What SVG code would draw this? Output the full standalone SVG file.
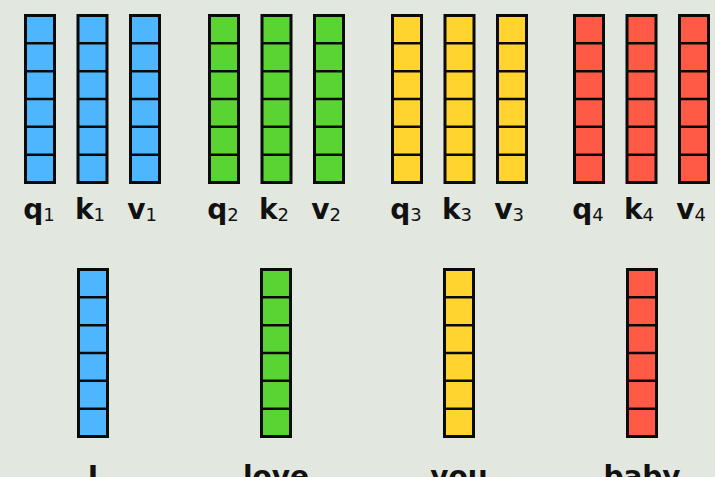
<svg xmlns="http://www.w3.org/2000/svg" xmlns:xlink="http://www.w3.org/1999/xlink" width="715" height="477" viewBox="0 0 715 477">
<style>
.box{stroke:#0a0a0a;stroke-width:3}
.div{stroke:#0a0a0a;stroke-width:2.5;fill:none}
.b{fill:#4DB6FF}.g{fill:#5AD432}.y{fill:#FFD42E}.r{fill:#FF5A46}
.lbl{font-family:"DejaVu Sans",sans-serif;font-weight:bold;font-size:28px;fill:#111;text-anchor:middle}
.sub{font-size:18px;font-weight:normal}
</style>
<defs>
<path id="dv" class="div" d="M1.5 43.33H30.5M1.5 71.17H30.5M1.5 99H30.5M1.5 126.83H30.5M1.5 154.67H30.5"/>
</defs>
<rect width="715" height="477" fill="#E2E7E0"/>
<g id="connectors"/>
<g id="q1"><rect class="box b" x="25.5" y="15.5" width="29" height="167"/><use xlink:href="#dv" x="24"/><text class="lbl" x="39" y="219">q<tspan class="sub" dy="2">1</tspan></text></g>
<g id="k1"><rect class="box b" x="78" y="15.5" width="29" height="167"/><use xlink:href="#dv" x="76.5"/><text class="lbl" x="90" y="219">k<tspan class="sub" dy="2">1</tspan></text></g>
<g id="v1"><rect class="box b" x="130.5" y="15.5" width="29" height="167"/><use xlink:href="#dv" x="129"/><text class="lbl" x="142" y="219">v<tspan class="sub" dy="2">1</tspan></text></g>
<g id="q2"><rect class="box g" x="209.5" y="15.5" width="29" height="167"/><use xlink:href="#dv" x="208"/><text class="lbl" x="223" y="219">q<tspan class="sub" dy="2">2</tspan></text></g>
<g id="k2"><rect class="box g" x="262" y="15.5" width="29" height="167"/><use xlink:href="#dv" x="260.5"/><text class="lbl" x="274" y="219">k<tspan class="sub" dy="2">2</tspan></text></g>
<g id="v2"><rect class="box g" x="314.5" y="15.5" width="29" height="167"/><use xlink:href="#dv" x="313"/><text class="lbl" x="326" y="219">v<tspan class="sub" dy="2">2</tspan></text></g>
<g id="q3"><rect class="box y" x="392.5" y="15.5" width="29" height="167"/><use xlink:href="#dv" x="391"/><text class="lbl" x="406" y="219">q<tspan class="sub" dy="2">3</tspan></text></g>
<g id="k3"><rect class="box y" x="445" y="15.5" width="29" height="167"/><use xlink:href="#dv" x="443.5"/><text class="lbl" x="457" y="219">k<tspan class="sub" dy="2">3</tspan></text></g>
<g id="v3"><rect class="box y" x="497.5" y="15.5" width="29" height="167"/><use xlink:href="#dv" x="496"/><text class="lbl" x="509" y="219">v<tspan class="sub" dy="2">3</tspan></text></g>
<g id="q4"><rect class="box r" x="574.5" y="15.5" width="29" height="167"/><use xlink:href="#dv" x="573"/><text class="lbl" x="588" y="219">q<tspan class="sub" dy="2">4</tspan></text></g>
<g id="k4"><rect class="box r" x="627" y="15.5" width="29" height="167"/><use xlink:href="#dv" x="625.5"/><text class="lbl" x="639" y="219">k<tspan class="sub" dy="2">4</tspan></text></g>
<g id="v4"><rect class="box r" x="679.5" y="15.5" width="29" height="167"/><use xlink:href="#dv" x="678"/><text class="lbl" x="691" y="219">v<tspan class="sub" dy="2">4</tspan></text></g>
<g id="w1"><rect class="box b" x="78.5" y="269.5" width="29" height="167"/><use xlink:href="#dv" x="77" y="254"/><text class="lbl" x="93" y="486">I</text></g>
<g id="w2"><rect class="box g" x="261.5" y="269.5" width="29" height="167"/><use xlink:href="#dv" x="260" y="254"/><text class="lbl" x="276" y="486">love</text></g>
<g id="w3"><rect class="box y" x="444.5" y="269.5" width="29" height="167"/><use xlink:href="#dv" x="443" y="254"/><text class="lbl" x="459" y="486">you</text></g>
<g id="w4"><rect class="box r" x="627.5" y="269.5" width="29" height="167"/><use xlink:href="#dv" x="626" y="254"/><text class="lbl" x="642" y="486">baby</text></g>
</svg>
